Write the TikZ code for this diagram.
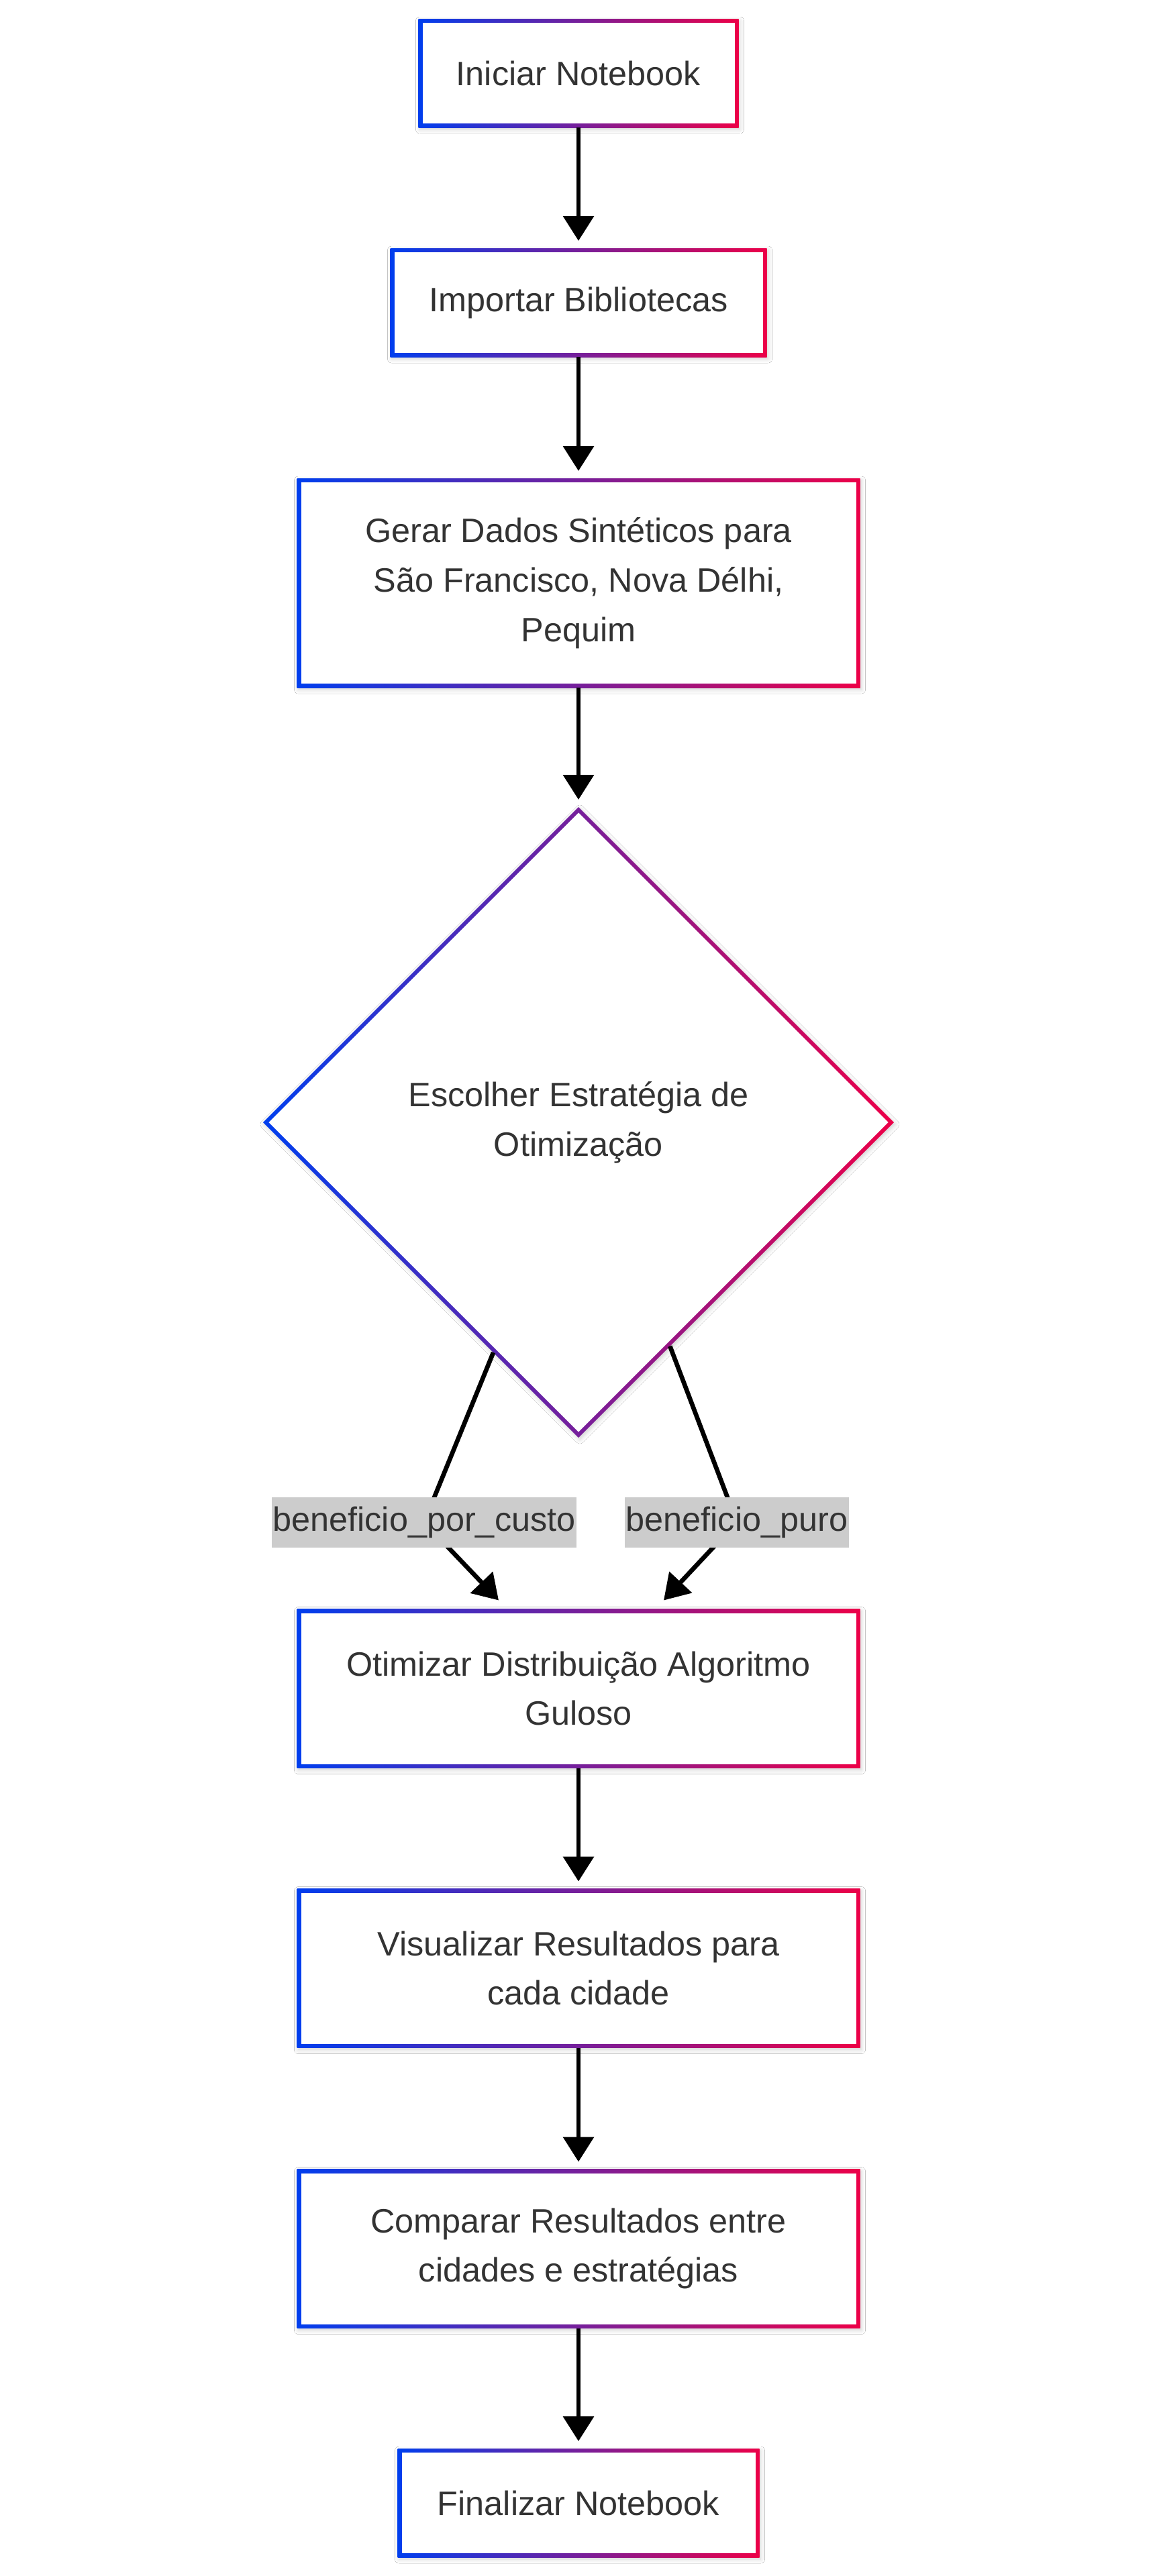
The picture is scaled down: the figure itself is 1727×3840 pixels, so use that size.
\documentclass[tikz,border=0pt]{standalone}
\usepackage{fontspec}
\setmainfont{Liberation Sans}
\usetikzlibrary{shapes.geometric,arrows.meta,calc,shadows.blur}
\definecolor{cblue}{RGB}{0,62,238}
\definecolor{cred}{RGB}{236,0,72}
\definecolor{ctext}{RGB}{51,51,51}
\definecolor{labgray}{RGB}{204,204,204}
\begin{document}
\begin{tikzpicture}[x=0.5pt,y=-0.5pt,
  softsh/.style={blur shadow={shadow xshift=1pt, shadow yshift=-1.5pt, shadow blur radius=3pt, shadow opacity=18}},
  flowbox/.style={rectangle, draw=none, left color=cblue, right color=cred, softsh,
    text=ctext, align=center, inner sep=0pt, outer sep=0pt,
    font=\fontsize{25.2pt}{36.9pt}\selectfont, minimum height=81pt,
    path picture={\fill[white] ([shift={(3pt,-3pt)}]path picture bounding box.north west) rectangle ([shift={(-3pt,3pt)}]path picture bounding box.south east);}},
  wide/.style={minimum width=419.5pt},
  dia/.style={diamond, aspect=1, draw=none, left color=cblue, right color=cred, softsh,
    text=ctext, align=center, inner sep=0pt, outer sep=0pt,
    font=\fontsize{25.2pt}{36.9pt}\selectfont, minimum width=470pt, minimum height=470pt,
    path picture={\fill[white] ([yshift=-4.24pt]path picture bounding box.north) -- ([xshift=-4.24pt]path picture bounding box.east) -- ([yshift=4.24pt]path picture bounding box.south) -- ([xshift=4.24pt]path picture bounding box.west) -- cycle;}},
  lab/.style={rectangle, fill=labgray, text=ctext, inner xsep=0.6pt, inner ysep=0pt,
    minimum height=37.5pt, font=\fontsize{25.2pt}{36.9pt}\selectfont},
  arr/.style={line width=3.35pt, draw=black, -{Triangle[length=18.5pt,width=22.5pt]}, shorten >=5.5pt},
  arrfree/.style={line width=3.35pt, draw=black, -{Triangle[length=18.5pt,width=22.5pt]}, line join=miter}
]
\fill[white] (0,0) rectangle (1727,3840);
\useasboundingbox (0,0) rectangle (1727,3840);

\node[flowbox, minimum width=238.5pt] (b1) at (862,109) {Iniciar Notebook};
\node[flowbox, minimum width=280.5pt] (b2) at (862,451) {Importar Bibliotecas};
\node[flowbox, wide, minimum height=156pt] (b3) at (862,869) {Gerar Dados Sintéticos para\\São Francisco, Nova Délhi,\\Pequim};
\node[dia] (d) at (862,1673) {Escolher Estratégia de\\Otimização};
\node[flowbox, wide, minimum height=118.5pt] (b4) at (862,2517) {Otimizar Distribuição Algoritmo\\Guloso};
\node[flowbox, wide, minimum height=118.5pt] (b5) at (862,2934) {Visualizar Resultados para\\cada cidade};
\node[flowbox, wide, minimum height=118.5pt] (b6) at (862,3352) {Comparar Resultados entre\\cidades e estratégias};
\node[flowbox, minimum width=269.5pt] (b7) at (862,3731) {Finalizar Notebook};

\draw[arr] (b1) -- (b2);
\draw[arr] (b2) -- (b3);
\draw[arr] (b3) -- (d);
\draw[arr] (b4) -- (b5);
\draw[arr] (b5) -- (b6);
\draw[arr] (b6) -- (b7);

\coordinate (s1) at ($(d.south)!0.27!(d.west)$);
\coordinate (s2) at ($(d.south)!0.29!(d.east)$);
\coordinate (m1) at (632,2269);
\coordinate (m2) at (1098,2269);
\coordinate (e1) at ($(b4.north)+(-119,-13)$);
\coordinate (e2) at ($(b4.north)+(127,-13)$);

\draw[arrfree] (s1) -- (m1) -- (e1);
\draw[arrfree] (s2) -- (m2) -- (e2);

\node[lab] (l1) at (m1) {beneficio\_por\_custo};
\node[lab] (l2) at (m2) {beneficio\_puro};
\end{tikzpicture}
\end{document}
